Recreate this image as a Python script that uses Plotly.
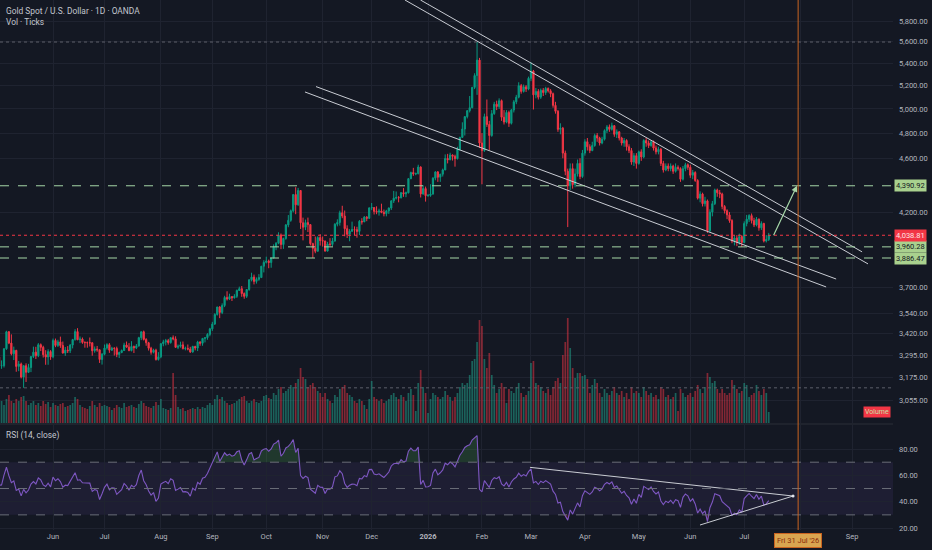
import numpy as np
import pandas as pd
import plotly.graph_objects as go

# Gold Spot / U.S. Dollar, 1D, OANDA - daily bars May 2025 .. 15 Jul 2026
first_date = "2025-05-01"
last_date = "2026-07-15"
first_open = 3288

close = [
    # May 2025
    3239, 3240, 3334, 3431, 3366, 3306, 3325, 3236, 3249, 3178, 3240, 3204, 3230, 3290, 3315, 3295, 3357, 3342, 3301, 3288, 3318, 3289,
    # Jun
    3381, 3353, 3373, 3352, 3310, 3326, 3323, 3355, 3386, 3432, 3385, 3389, 3370, 3369, 3368, 3368, 3323, 3333, 3328, 3274, 3303,
    # Jul
    3338, 3357, 3326, 3337, 3336, 3302, 3313, 3324, 3355, 3343, 3324, 3347, 3339, 3350, 3397, 3431, 3387, 3368, 3337, 3314, 3326, 3274, 3289,
    # Aug
    3363, 3373, 3380, 3369, 3397, 3390, 3342, 3348, 3356, 3335, 3336, 3332, 3316, 3347, 3338, 3372, 3365, 3393, 3397, 3416, 3448,
    # Sep
    3476, 3533, 3578, 3545, 3587, 3636, 3626, 3641, 3634, 3643, 3679, 3690, 3660, 3643, 3685, 3746, 3763, 3736, 3749, 3760, 3833, 3858,
    # Oct
    3866, 3857, 3886, 3961, 3985, 4041, 3976, 4017, 4110, 4142, 4209, 4326, 4252, 4356, 4125, 4094, 4126, 4112, 3982, 3951, 3931, 4023, 4002,
    # Nov
    4000, 3932, 3980, 3977, 4000, 4115, 4127, 4195, 4172, 4084, 4045, 4067, 4078, 4077, 4065, 4135, 4131, 4164, 4156, 4230,
    # Dec
    4232, 4205, 4200, 4208, 4198, 4189, 4208, 4229, 4280, 4300, 4305, 4303, 4340, 4332, 4339, 4444, 4490, 4480, 4482, 4532, 4331, 4370, 4318,
    # Jan 2026
    4320, 4330, 4448, 4495, 4455, 4478, 4510, 4598, 4588, 4625, 4615, 4597, 4670, 4765, 4833, 4935, 4985, 5010, 5185, 5290, 5430, 4720,
    # Feb
    4660, 4935, 4870, 4780, 4960, 5040, 5020, 5070, 4930, 4890, 4970, 4880, 4990, 5060, 5100, 5200, 5150, 5190, 5170, 5265,
    # Mar
    5330, 5120, 5150, 5100, 5160, 5140, 5175, 5155, 5130, 5030, 4980, 4830, 4840, 4640, 4500, 4390, 4520, 4400, 4480, 4560, 4460, 4640,
    # Apr
    4730, 4690, 4660, 4700, 4780, 4760, 4720, 4750, 4820, 4850, 4830, 4860, 4790, 4810, 4760, 4720, 4740, 4690, 4660, 4570, 4620, 4560,
    # May
    4650, 4610, 4740, 4720, 4700, 4730, 4680, 4650, 4670, 4560, 4510, 4540, 4520, 4540, 4500, 4530, 4520, 4440, 4520, 4550, 4530,
    # Jun
    4470, 4490, 4430, 4300, 4330, 4260, 4280, 4070, 4200, 4260, 4360, 4340, 4330, 4240, 4210, 4180, 4140, 4000, 4020, 3990, 4030, 3990,
    # Jul
    4120, 4150, 4175, 4140, 4110, 4150, 4090, 4120, 4000, 4010, 4038.81,
]

high = [
    3270, 3269, 3337, 3437, 3435, 3416, 3346, 3328, 3266, 3257, 3242, 3253, 3250, 3294, 3346, 3345, 3366, 3364, 3351, 3326, 3331, 3326,
    3392, 3392, 3385, 3403, 3375, 3344, 3349, 3360, 3390, 3446, 3452, 3404, 3398, 3376, 3375, 3398, 3370, 3347, 3350, 3330, 3310,
    3358, 3365, 3366, 3345, 3342, 3346, 3318, 3330, 3368, 3375, 3366, 3377, 3352, 3361, 3402, 3433, 3438, 3394, 3373, 3345, 3334, 3334, 3315,
    3364, 3385, 3390, 3390, 3398, 3410, 3405, 3358, 3374, 3375, 3346, 3358, 3345, 3351, 3351, 3379, 3377, 3394, 3398, 3423, 3454,
    3489, 3540, 3578, 3583, 3600, 3646, 3674, 3659, 3644, 3656, 3685, 3703, 3707, 3667, 3687, 3749, 3791, 3779, 3761, 3782, 3835, 3872,
    3895, 3876, 3889, 3977, 3992, 4059, 4051, 4022, 4116, 4179, 4218, 4330, 4380, 4375, 4359, 4161, 4147, 4161, 4115, 3988, 4030, 4032, 4046,
    4030, 4002, 3994, 4019, 4021, 4122, 4149, 4210, 4245, 4211, 4107, 4081, 4133, 4100, 4097, 4144, 4157, 4172, 4172, 4234,
    4265, 4235, 4241, 4224, 4260, 4218, 4216, 4233, 4286, 4353, 4349, 4315, 4345, 4374, 4348, 4448, 4497, 4526, 4490, 4550, 4538, 4395, 4385,
    4330, 4402, 4455, 4500, 4502, 4480, 4520, 4630, 4634, 4643, 4630, 4628, 4690, 4770, 4888, 4940, 4990, 5110, 5190, 5310, 5598, 5450,
    4800, 4960, 5080, 4900, 4990, 5060, 5070, 5090, 5080, 4990, 4990, 4985, 5000, 5075, 5120, 5230, 5215, 5210, 5205, 5280,
    5410, 5340, 5180, 5170, 5175, 5180, 5190, 5185, 5170, 5140, 5060, 4990, 4880, 4850, 4660, 4520, 4560, 4560, 4520, 4590, 4600, 4665,
    4750, 4760, 4710, 4730, 4795, 4800, 4770, 4770, 4830, 4865, 4870, 4885, 4865, 4830, 4815, 4770, 4760, 4750, 4710, 4680, 4640, 4640,
    4660, 4670, 4750, 4760, 4740, 4745, 4740, 4700, 4690, 4680, 4580, 4560, 4560, 4560, 4550, 4560, 4545, 4530, 4540, 4565, 4560,
    4550, 4510, 4500, 4440, 4350, 4340, 4310, 4290, 4220, 4280, 4370, 4370, 4360, 4340, 4250, 4220, 4200, 4150, 4040, 4040, 4050, 4040,
    4135, 4180, 4185, 4190, 4160, 4165, 4155, 4135, 4125, 4040, 4055,
]

low = [
    3202, 3223, 3230, 3328, 3360, 3297, 3271, 3207, 3210, 3171, 3121, 3152, 3200, 3205, 3282, 3277, 3287, 3321, 3285, 3245, 3245, 3272,
    3281, 3343, 3344, 3339, 3307, 3294, 3310, 3310, 3336, 3380, 3383, 3366, 3362, 3340, 3340, 3347, 3295, 3312, 3317, 3255, 3246,
    3297, 3329, 3311, 3322, 3296, 3287, 3282, 3309, 3322, 3340, 3320, 3319, 3310, 3332, 3346, 3383, 3381, 3351, 3324, 3301, 3308, 3268, 3268,
    3281, 3348, 3353, 3357, 3363, 3382, 3340, 3332, 3340, 3330, 3325, 3325, 3311, 3312, 3325, 3321, 3351, 3351, 3370, 3385, 3405,
    3436, 3471, 3526, 3511, 3535, 3577, 3617, 3620, 3614, 3629, 3633, 3677, 3640, 3628, 3633, 3677, 3736, 3717, 3722, 3740, 3760, 3793,
    3851, 3820, 3823, 3884, 3938, 3978, 3945, 3947, 4008, 4094, 4132, 4198, 4185, 4245, 4082, 4004, 4074, 4061, 3970, 3886.47, 3918, 3930, 3969,
    3962, 3929, 3930, 3965, 3965, 3995, 4100, 4105, 4157, 4032, 4020, 3998, 4061, 4040, 4022, 4040, 4112, 4130, 4136, 4152,
    4214, 4183, 4185, 4175, 4192, 4170, 4170, 4187, 4215, 4265, 4290, 4270, 4298, 4310, 4307, 4335, 4440, 4465, 4470, 4476, 4305, 4325, 4275,
    4310, 4310, 4325, 4432, 4420, 4420, 4460, 4508, 4560, 4585, 4582, 4535, 4590, 4660, 4760, 4780, 4920, 4970, 5005, 5170, 5120, 4680,
    4402, 4650, 4850, 4665, 4770, 4950, 4990, 5000, 4900, 4870, 4880, 4850, 4870, 4970, 5040, 5090, 5130, 5140, 5145, 5160,
    5240, 4995, 5090, 5080, 5085, 5110, 5120, 5140, 5100, 5010, 4960, 4810, 4790, 4600, 4470, 4095, 4360, 4370, 4380, 4460, 4440, 4450,
    4620, 4660, 4640, 4655, 4690, 4730, 4700, 4710, 4740, 4800, 4810, 4820, 4770, 4760, 4740, 4700, 4690, 4660, 4640, 4550, 4540, 4520,
    4550, 4580, 4600, 4690, 4680, 4690, 4660, 4630, 4630, 4540, 4490, 4500, 4500, 4500, 4480, 4490, 4505, 4420, 4430, 4500, 4510,
    4450, 4440, 4420, 4290, 4270, 4240, 4240, 4055, 4060, 4170, 4250, 4310, 4300, 4220, 4190, 4150, 4125, 3985, 3970, 3965, 3975, 3960.28,
    3985, 4100, 4130, 4120, 4095, 4100, 4070, 4075, 3990, 3990, 4000,
]

# tick volume, thousands
volume = [
    20, 22, 18, 24, 28, 22, 20, 24, 22, 26, 27, 22, 18, 20, 22, 18, 20, 17, 22, 19, 21, 16,
    20, 18, 17, 19, 20, 16, 17, 18, 20, 26, 24, 18, 16, 15, 14, 17, 22, 18, 16, 20, 17,
    18, 17, 16, 13, 15, 18, 16, 15, 20, 16, 17, 18, 16, 15, 19, 22, 20, 17, 16, 15, 17, 21, 18,
    24, 15, 14, 13, 15, 50, 28, 16, 14, 15, 12, 13, 14, 15, 14, 16, 14, 16, 15, 18, 20,
    18, 24, 28, 24, 26, 22, 20, 18, 19, 20, 22, 24, 26, 27, 22, 20, 22, 24, 21, 20, 22, 27,
    28, 25, 24, 30, 28, 34, 36, 30, 32, 34, 38, 36, 40, 44, 55, 46, 44, 36, 38, 40, 36, 32, 30,
    26, 30, 24, 22, 20, 28, 26, 34, 36, 38, 30, 28, 26, 22, 20, 24, 22, 18, 14, 24,
    42, 26, 24, 22, 24, 20, 22, 24, 28, 30, 26, 24, 28, 26, 22, 30, 34, 28, 12, 40, 53, 36, 30,
    10, 24, 30, 28, 26, 24, 26, 32, 28, 26, 22, 26, 30, 36, 40, 38, 40, 48, 62, 64, 81, 103,
    97, 64, 55, 70, 48, 38, 30, 34, 40, 36, 20, 34, 32, 30, 36, 40, 30, 26, 28, 32,
    60, 62, 40, 38, 36, 32, 30, 34, 28, 36, 42, 45, 40, 68, 81, 105, 75, 55, 45, 50, 50, 47,
    48, 44, 30, 38, 44, 40, 30, 26, 34, 30, 28, 32, 36, 30, 28, 32, 26, 30, 24, 36, 30, 32,
    30, 26, 36, 32, 28, 30, 26, 28, 24, 36, 34, 26, 28, 24, 26, 30, 12, 34, 30, 26, 28,
    30, 26, 32, 38, 34, 30, 36, 50, 46, 40, 42, 34, 30, 34, 30, 28, 30, 43, 38, 34, 30, 32,
    40, 38, 26, 28, 30, 38, 32, 28, 34, 30, 11,
]

# closes before the visible window (Mar-Apr 2025), only to seed RSI(14)
warmup_close = [2893, 2918, 2920, 2910, 2910, 2888, 2917, 2934, 2988, 2984, 3001, 3035, 3048, 3044, 3023,
                3011, 3020, 3019, 3057, 3084, 3123, 3113, 3133, 3114, 3037, 2982, 2982, 3083, 3175, 3237,
                3210, 3229, 3342, 3327, 3327, 3424, 3381, 3288, 3349, 3319, 3344, 3317, 3288]

# horizontal levels drawn on the chart
level_green = [4390.92, 3960.28, 3886.47]
last_price = 4038.81

# drawn trend lines (date, price)
channel_upper_a = (["2025-12-18 14:00", "2026-09-09 12:00"], [6010, 3848])
channel_upper_b = (["2025-12-26 22:00", "2026-09-07 02:00"], [6010, 3927])
channel_lower_a = (["2025-10-29 07:00", "2026-08-21 12:00"], [5192, 3751])
channel_lower_b = (["2025-10-22 19:00", "2026-08-17 10:00"], [5145, 3701])
arrow_tip = ("2026-07-30 12:00", 4390.92)
rsi_upper_line = (["2026-02-27 14:00", "2026-07-28 22:00"], [66.1, 44.3])
rsi_lower_line = (["2026-06-04 23:00", "2026-07-28 22:00"], [22.3, 44.3])
marker_date = "2026-07-31"

price_ticks = [3055, 3175, 3295, 3420, 3540, 3700, 4200, 4600, 4800, 5000, 5200, 5400, 5600, 5800, 6000]
rsi_ticks = [20, 40, 60, 80]
month_ticks = ["2025-06-02", "2025-07-01", "2025-08-01", "2025-09-01", "2025-10-01", "2025-11-03",
               "2025-12-01", "2026-01-01", "2026-02-02", "2026-03-02", "2026-04-01", "2026-05-01",
               "2026-06-01", "2026-07-01", "2026-08-03", "2026-09-01"]
month_text = ["Jun", "Jul", "Aug", "Sep", "Oct", "Nov", "Dec", "<b>2026</b>", "Feb", "Mar", "Apr", "May",
              "Jun", "Jul", "", "Sep"]

# ---------------------------------------------------------------------------
BG = "#141823"
GRID = "#1f2330"
TXT = "#b2b5be"
UP = "#089981"
DN = "#f23645"
LINE = "#c9ccd3"
GREEN_LVL = "#a5d6a7"
FONT = "Roboto"

dates = pd.bdate_range(first_date, last_date)
open_ = [first_open] + close[:-1]
high = [max(h, o, c) for h, o, c in zip(high, open_, close)]
low = [min(l, o, c) for l, o, c in zip(low, open_, close)]
vol_colors = ["rgba(34,171,148,0.5)" if c >= o else "rgba(242,54,69,0.5)" for o, c in zip(open_, close)]

# RSI(14) with Wilder smoothing
cs = pd.Series(warmup_close + close, dtype=float)
d = cs.diff()
up = d.clip(lower=0).to_numpy()
dn = (-d).clip(lower=0).to_numpy()
n = 14
ag = np.full(len(cs), np.nan)
al = np.full(len(cs), np.nan)
ag[n] = up[1:n + 1].mean()
al[n] = dn[1:n + 1].mean()
for k in range(n + 1, len(cs)):
    ag[k] = (ag[k - 1] * (n - 1) + up[k]) / n
    al[k] = (al[k - 1] * (n - 1) + dn[k]) / n
rsi = (100 - 100 / (1 + ag / al))[len(warmup_close):]

fig = go.Figure()

fig.add_trace(go.Bar(x=dates, y=volume, marker_color=vol_colors, marker_line_width=0,
                     xaxis="x", yaxis="y", hoverinfo="skip"))

fig.add_trace(go.Candlestick(
    x=dates, open=open_, high=high, low=low, close=close, xaxis="x", yaxis="y3",
    increasing=dict(line=dict(color=UP, width=1), fillcolor=UP),
    decreasing=dict(line=dict(color=DN, width=1), fillcolor=DN),
    whiskerwidth=0))

for xs, ys in [channel_upper_a, channel_upper_b, channel_lower_a, channel_lower_b]:
    fig.add_trace(go.Scatter(x=xs, y=ys, mode="lines", line=dict(color=LINE, width=1),
                             xaxis="x", yaxis="y3", hoverinfo="skip"))

# RSI pane
fig.add_trace(go.Scatter(x=dates, y=[70] * len(dates), mode="lines", line=dict(width=0),
                         xaxis="x2", yaxis="y2", hoverinfo="skip"))
fig.add_trace(go.Scatter(x=dates, y=np.maximum(rsi, 70), mode="lines", line=dict(width=0),
                         fill="tonexty", fillcolor="rgba(76,175,80,0.22)",
                         xaxis="x2", yaxis="y2", hoverinfo="skip"))
fig.add_trace(go.Scatter(x=dates, y=[30] * len(dates), mode="lines", line=dict(width=0),
                         xaxis="x2", yaxis="y2", hoverinfo="skip"))
fig.add_trace(go.Scatter(x=dates, y=np.minimum(rsi, 30), mode="lines", line=dict(width=0),
                         fill="tonexty", fillcolor="rgba(242,54,69,0.2)",
                         xaxis="x2", yaxis="y2", hoverinfo="skip"))
fig.add_trace(go.Scatter(x=dates, y=rsi, mode="lines", line=dict(color="#7e57c2", width=1.1),
                         xaxis="x2", yaxis="y2", hoverinfo="skip"))
for xs, ys in [rsi_upper_line, rsi_lower_line]:
    fig.add_trace(go.Scatter(x=xs, y=ys, mode="lines", line=dict(color=LINE, width=1),
                             xaxis="x2", yaxis="y2", hoverinfo="skip"))
fig.add_trace(go.Scatter(x=[rsi_upper_line[0][1]], y=[rsi_upper_line[1][1]], mode="markers",
                         marker=dict(color="#e0e3eb", size=3), xaxis="x2", yaxis="y2", hoverinfo="skip"))

shapes = []
# RSI band and guide lines
shapes.append(dict(type="rect", xref="x2 domain", yref="y2", x0=0, x1=1, y0=30, y1=70,
                   fillcolor="rgba(126,87,194,0.1)", line=dict(width=0), layer="below"))
for v in [70, 50, 30]:
    shapes.append(dict(type="line", xref="x2 domain", yref="y2", x0=0, x1=1, y0=v, y1=v,
                       line=dict(color="#6a6d78", width=1, dash="dash")))
# price levels
for v in level_green:
    shapes.append(dict(type="line", xref="x domain", yref="y3", x0=0, x1=1, y0=v, y1=v,
                       line=dict(color=GREEN_LVL, width=1, dash="dash")))
shapes.append(dict(type="line", xref="x domain", yref="y3", x0=0, x1=1, y0=last_price, y1=last_price,
                   line=dict(color=DN, width=1, dash="dot")))
for v in [max(high), min(low)]:
    shapes.append(dict(type="line", xref="x domain", yref="y3", x0=0, x1=1, y0=v, y1=v,
                       line=dict(color="#5d606b", width=1, dash="dot")))
# pane separator
shapes.append(dict(type="line", xref="paper", yref="paper", x0=0, x1=1, y0=0.2, y1=0.2,
                   line=dict(color="#2a2e39", width=1)))
# date marker
shapes.append(dict(type="line", xref="x", yref="paper", x0=marker_date, x1=marker_date, y0=0, y1=1,
                   line=dict(color="#c96320", width=1)))

small = dict(family=FONT, size=7.5, color=TXT)
title_font = dict(family=FONT, size=8.4, color="#c3c6ce")
annotations = [
    dict(text="Gold Spot / U.S. Dollar · 1D · OANDA", xref="paper", yref="paper", x=0, y=0.979,
         xanchor="left", yanchor="middle", xshift=4, showarrow=False, font=title_font),
    dict(text="Vol · Ticks", xref="paper", yref="paper", x=0, y=0.9585,
         xanchor="left", yanchor="middle", xshift=4, showarrow=False, font=title_font),
    dict(text="RSI (14, close)", xref="paper", yref="paper", x=0, y=0.1774,
         xanchor="left", yanchor="middle", xshift=4, showarrow=False, font=title_font),
    dict(text="", xref="x", yref="y3", x=arrow_tip[0], y=np.log10(arrow_tip[1]), ax=-24, ay=51,
         showarrow=True, arrowcolor=GREEN_LVL, arrowwidth=1.2, arrowhead=2, arrowsize=1),
    dict(text="Fri 31 Jul '26", xref="x", yref="paper", x=marker_date, y=-0.019, yanchor="middle",
         showarrow=False, bgcolor="#d9a550", bordercolor="#c96320", borderwidth=1, borderpad=2,
         font=dict(family=FONT, size=7.5, color="#8a2b0b")),
    dict(text="Volume", xref="paper", yref="y", x=1, y=volume[-1], xanchor="right", yanchor="middle",
         xshift=-2, showarrow=False, bgcolor=DN, borderpad=1,
         font=dict(family=FONT, size=7, color="#c5e1a5")),
]
for v in level_green:
    annotations.append(dict(text=f"{v:,.2f}", xref="paper", yref="y3", x=1, y=np.log10(v),
                            xanchor="left", yanchor="middle", xshift=1, showarrow=False,
                            bgcolor="#a9d18e", borderpad=1, font=dict(family=FONT, size=7.5, color="#131722")))
annotations.append(dict(text=f"{last_price:,.2f}", xref="paper", yref="y3", x=1, y=np.log10(last_price),
                        xanchor="left", yanchor="middle", xshift=1, showarrow=False,
                        bgcolor=DN, borderpad=1, font=dict(family=FONT, size=7.5, color="#ffe4e6")))

x_range = ["2025-05-01 08:48", "2026-09-23 16:48"]
rb = [dict(bounds=["sat", "mon"])]

fig.update_layout(
    width=932, height=550,
    margin=dict(l=0, r=39, t=0, b=20),
    paper_bgcolor=BG, plot_bgcolor=BG,
    showlegend=False, bargap=0.3,
    shapes=shapes, annotations=annotations,
    xaxis=dict(domain=[0, 1], anchor="y", type="date", range=x_range, rangebreaks=rb,
               tickvals=month_ticks, ticktext=month_text, showticklabels=False,
               showgrid=True, gridcolor=GRID, zeroline=False, showline=False,
               rangeslider=dict(visible=False)),
    xaxis2=dict(domain=[0, 1], anchor="y2", type="date", range=x_range, rangebreaks=rb, matches="x",
                tickvals=month_ticks, ticktext=month_text, tickfont=small,
                showgrid=True, gridcolor=GRID, zeroline=False, showline=False, ticks=""),
    yaxis=dict(domain=[0.2019, 1], anchor="x", range=[0, 423], visible=False, showgrid=False),
    yaxis3=dict(overlaying="y", anchor="x", side="right", type="log",
                range=[np.log10(2941), np.log10(6010)], tickvals=price_ticks, tickformat=",.2f",
                tickfont=small, showgrid=True, gridcolor=GRID, zeroline=False, showline=False,
                ticks="", ticklabelstandoff=5),
    yaxis2=dict(domain=[0, 0.198], anchor="x2", side="right", range=[18.5, 98.2],
                tickvals=rsi_ticks, tickformat=".2f", tickfont=small,
                showgrid=True, gridcolor=GRID, zeroline=False, showline=False,
                ticks="", ticklabelstandoff=5),
)

fig.write_html("out.html", config={"displayModeBar": False},
               post_script="document.body.style.margin='0px';document.body.style.overflow='hidden';")
